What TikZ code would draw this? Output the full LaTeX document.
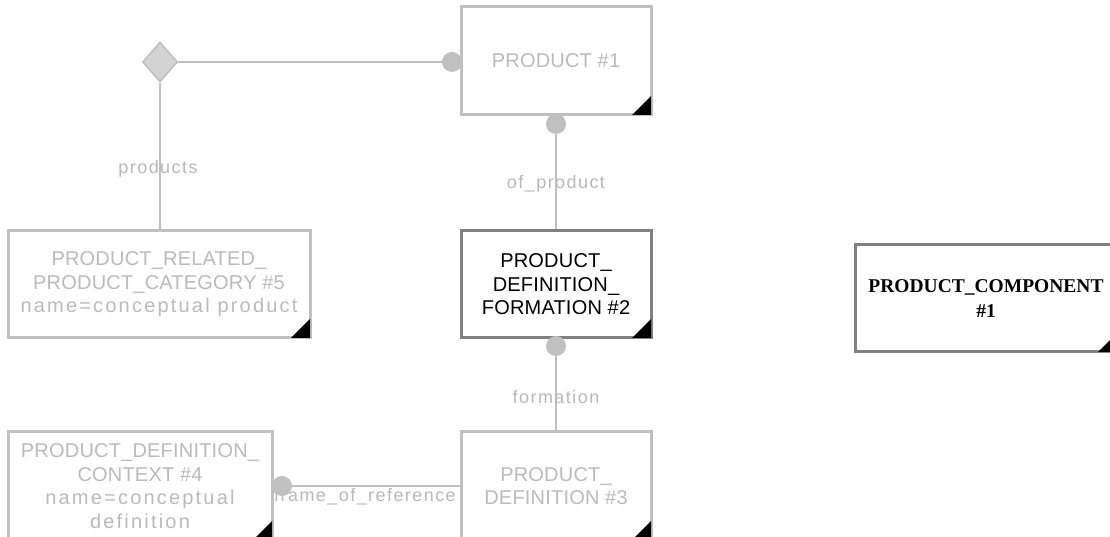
\documentclass[tikz,border=0pt]{standalone}
\usepackage{fontspec}
\setmainfont{Liberation Sans}
\newfontfamily\upf[LetterSpace=1]{Liberation Sans}
\newfontfamily\lof[LetterSpace=11]{Liberation Sans}
\newfontfamily\labf[LetterSpace=8]{Liberation Sans}
\newfontfamily\serf{Liberation Serif}
\usetikzlibrary{shapes.geometric}
\definecolor{lg}{HTML}{C0C0C0}
\definecolor{tg}{HTML}{BBBBBB}
\definecolor{dg}{HTML}{808080}
\definecolor{lbl}{HTML}{B8B8B8}
\definecolor{dfill}{HTML}{D3D3D3}
\pgfdeclarelayer{bg}
\pgfsetlayers{bg,main}
\tikzset{
  ent/.style={draw=lg, line width=3pt, fill=white, rectangle, inner sep=0pt, align=center, text=tg, font=\fontsize{20}{23.5}\upf},
  entdark/.style={ent, draw=dg, text=black},
  entserif/.style={ent, draw=dg, text=black, font=\fontsize{19.5}{25}\serf\bfseries},
  dot/.style={circle, fill=lg, inner sep=0pt, minimum size=20pt},
  conn/.style={draw=lg, line width=2pt},
  lab/.style={text=lbl, font=\fontsize{18}{20}\labf, inner sep=0pt},
  dia/.style={diamond, draw=lg, fill=dfill, line width=1.5pt, inner sep=0pt, minimum width=35pt, minimum height=40pt},
}
\newcommand\cornermark[1]{\fill[black] ([shift={(-1.5pt,1.5pt)}]#1.south east) -- ++(0,19) -- ++(-19,-19) -- cycle;}
\begin{document}
\begin{tikzpicture}[x=1pt,y=1pt]
\useasboundingbox (0,0) rectangle (1110,537);
% entities
\node[ent, minimum width=190pt, minimum height=108pt] (p1) at (556,476) {PRODUCT \#1};
\node[dia] (d) at (160,475) {};
\node[ent, minimum width=302pt, minimum height=107pt] (prc) at (159,252.5) {PRODUCT\_RELATED\_\\PRODUCT\_CATEGORY \#5\\{\lof name=conceptual product}};
\node[entdark, minimum width=190pt, minimum height=107pt] (pdf) at (556,252.5) {PRODUCT\_\\DEFINITION\_\\FORMATION \#2};
\node[ent, minimum width=190pt, minimum height=108pt] (pd) at (556,51) {PRODUCT\_\\DEFINITION \#3};
\node[ent, minimum width=264pt, minimum height=108pt] (pdc) at (140,51) {PRODUCT\_DEFINITION\_\\CONTEXT \#4\\{\lof name=conceptual}\\{\lof definition}};
\node[entserif, minimum width=262pt, minimum height=107pt] (pc) at (986,238.5) {PRODUCT\_COMPONENT\\\#1};
\cornermark{p1}
\cornermark{prc}
\cornermark{pdf}
\cornermark{pd}
\cornermark{pdc}
\cornermark{pc}
% end dots
\node[dot] (c1) at (452,475) {};
\node[dot] (c2) at (556,413) {};
\node[dot] (c3) at (556,191) {};
\node[dot] (c4) at (282,51) {};
\begin{pgfonlayer}{bg}
\draw[conn] (d.east) -- (c1.center);
\draw[conn] (d.south) -- (d.south |- prc.north);
\draw[conn] (c2.center) -- (pdf.north);
\draw[conn] (c3.center) -- (pd.north);
\draw[conn] (c4.center) -- (pd.west);
\node[lab] (l1) at (158,368) {products};
\node[lab] (l2) at (556,353) {of\_product};
\node[lab] (l3) at (556,140) {formation};
\node[lab] (l4) at (365,40) {frame\_of\_reference};
\end{pgfonlayer}
\end{tikzpicture}
\end{document}
